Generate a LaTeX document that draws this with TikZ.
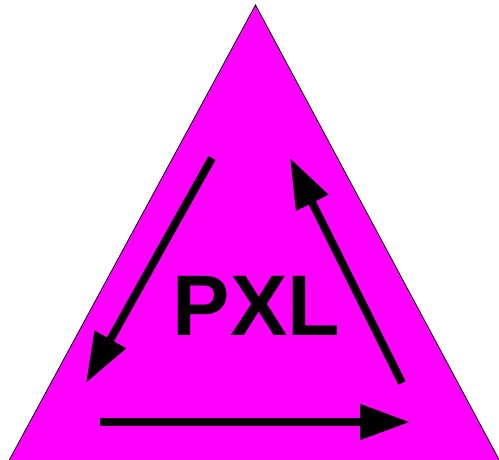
\documentclass[tikz,border=0pt]{standalone}
\usepackage{fontspec}
\setmainfont{Liberation Sans}
\usetikzlibrary{arrows.meta}
\definecolor{mag}{RGB}{255,0,255}
\tikzset{
  bigarrow/.style={line width=8pt, -{Triangle[length=50pt,width=34pt]}},
  tri/.style={draw=black, line width=0.8pt, fill=mag, line join=miter}
}
\begin{document}
\begin{tikzpicture}[x=1pt,y=-1pt]
\useasboundingbox (0,0) rectangle (499,460);
\coordinate (top) at (255.5,5);
\coordinate (bl) at (9,460.5);
\coordinate (br) at (499.5,460.5);
\draw[tri] (top) -- (bl) -- (br) -- cycle;
\coordinate (a1s) at (212,158);
\coordinate (a1e) at (86,383);
\coordinate (a2s) at (402,383);
\coordinate (a2e) at (290,158);
\coordinate (a3s) at (100,422);
\coordinate (a3e) at (410,422);
\draw[bigarrow] (a1s) -- (a1e);
\draw[bigarrow] (a2s) -- (a2e);
\draw[bigarrow] (a3s) -- (a3e);
\node[font=\fontsize{86}{90}\selectfont\bfseries, inner sep=0pt] (pxl) at (256.5,306) {PXL};
\end{tikzpicture}
\end{document}
